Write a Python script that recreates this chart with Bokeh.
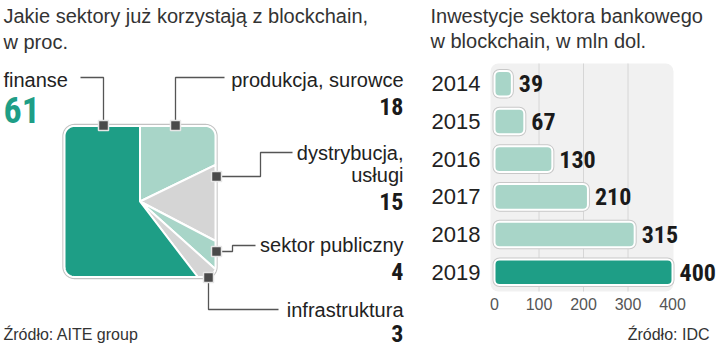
import math
from bokeh.plotting import figure
from bokeh.layouts import row
from bokeh.models import Range1d, FixedTicker, ColumnDataSource, FactorRange
from bokeh.core.properties import value
from bokeh.embed import file_html
from bokeh.resources import INLINE

# ---------------- data ----------------
sectors = ["finanse", "produkcja, surowce", "dystrybucja,\nusługi", "sektor publiczny", "infrastruktura"]
shares = [61, 18, 15, 4, 3]
pie_order = [1, 2, 3, 4, 0]          # clockwise from 12 o'clock

years = ["2014", "2015", "2016", "2017", "2018", "2019"]
invest = [39, 67, 130, 210, 315, 400]
x_ticks = [0, 100, 200, 300, 400]

title_left = ["Jakie sektory już korzystają z blockchain,", "w proc."]
title_right = ["Inwestycje sektora bankowego", "w blockchain, w mln dol."]
source_left = "Źródło: AITE group"
source_right = "Źródło: IDC"

# ---------------- styles ----------------
GREEN = "#1e9e86"
LIGHT = "#a8d5c8"
GRAY = "#d5d5d5"
sector_colors = [GREEN, LIGHT, GRAY, LIGHT, GRAY]
bar_colors = [LIGHT] * 5 + [GREEN]
TXT = "'Liberation Sans', Arial, sans-serif"
NUM = "'Liberation Sans Narrow', 'Noto Sans Condensed', 'Roboto Condensed', Roboto, sans-serif"
DARK = "#222222"
W, HGT = 720, 355
LW = 420


def yoff(size):
    # baseline correction for alphabetic text (px)
    return -round(0.38 * size)


# ---------------- left panel ----------------
L = figure(width=LW, height=HGT, x_range=Range1d(0, LW), y_range=Range1d(HGT, 0),
           x_axis_location=None, y_axis_location=None, toolbar_location=None,
           output_backend="svg", min_border=0, outline_line_color=None)
L.xgrid.visible = False
L.ygrid.visible = False

CX, CY, H, C = 139.5, 201.0, 75.5, 10.0


def edge(theta, h=H, c=C):
    dx_, dy_ = math.sin(theta), -math.cos(theta)
    t = h / max(abs(dx_), abs(dy_))
    px, py = t * dx_, t * dy_
    if abs(px) > h - c and abs(py) > h - c:
        cx0 = math.copysign(h - c, dx_)
        cy0 = math.copysign(h - c, dy_)
        b = dx_ * cx0 + dy_ * cy0
        t = b + math.sqrt(max(0.0, b * b - (cx0 * cx0 + cy0 * cy0) + c * c))
        px, py = t * dx_, t * dy_
    return CX + px, CY + py


total = sum(shares)
wx, wy, wc = [], [], []
a0 = 0.0
for i in pie_order:
    a1 = a0 + 2 * math.pi * shares[i] / total
    n = max(2, int((a1 - a0) / math.radians(0.5)))
    pts = [edge(a0 + (a1 - a0) * k / n) for k in range(n + 1)]
    wx.append([CX] + [p[0] for p in pts])
    wy.append([CY] + [p[1] for p in pts])
    wc.append(sector_colors[i])
    a0 = a1

opts = [edge(2 * math.pi * k / 720, H + 1.5, C + 1.5) for k in range(721)]
L.patch([p[0] for p in opts], [p[1] for p in opts], fill_color="white",
        line_color="#c2c2c2", line_width=1.3)
L.patches(wx, wy, fill_color=wc, line_color="white", line_width=2)

# connectors (finanse, produkcja, dystrybucja, publiczny, infrastruktura)
conn_x = [[80, 103, 103], [175, 175, 224], [216, 260, 260, 292], [216, 232, 232, 255], [208, 208, 278]]
conn_y = [[77, 77, 125], [125, 77, 77], [176, 176, 152, 152], [251, 251, 245, 245], [277, 309, 309]]
L.multi_line(conn_x, conn_y, line_color="#555555", line_width=1.3)
mk_x = [xs[-1] if i == 0 else xs[0] for i, xs in enumerate(conn_x)]
mk_y = [ys[-1] if i == 0 else ys[0] for i, ys in enumerate(conn_y)]
L.scatter(mk_x, mk_y, marker="square", size=10, fill_color="#4a4a4a",
          line_color="#e6e6e6", line_width=1.5)

L.text(x=[3, 3], y=[23, 49], text=title_left, text_font=value(TXT), text_font_size="20px",
       text_color="#333333", text_baseline="alphabetic", text_align="left", y_offset=yoff(20))
L.text(x=[3], y=[340], text=[source_left], text_font=value(TXT), text_font_size="16px",
       text_color="#333333", text_baseline="alphabetic", text_align="left", y_offset=yoff(16))

name_lines = [s.split("\n") for s in sectors]
name_base = [[87], [87], [160, 182], [252], [317]]
val_base = [123, 115, 210, 280, 342]
nx, ny, nt, na = [], [], [], []
for i, lines in enumerate(name_lines):
    for ln, yb in zip(lines, name_base[i]):
        nx.append(3 if i == 0 else 403)
        ny.append(yb)
        nt.append(ln)
        na.append("left" if i == 0 else "right")
L.text(x=nx, y=ny, text=nt, text_align=na, text_font=value(TXT), text_font_size="20px",
       text_color=DARK, text_baseline="alphabetic", y_offset=yoff(20))
L.text(x=[3], y=[val_base[0]], text=[str(shares[0])], text_align="left", text_font=value(NUM),
       text_font_size="36px", text_font_style="bold", text_color=GREEN, text_baseline="alphabetic",
       y_offset=yoff(36))
L.text(x=[403] * 4, y=val_base[1:], text=[str(v) for v in shares[1:]], text_align="right",
       text_font=value(NUM), text_font_size="24px", text_font_style="bold", text_color="#1a1a1a",
       text_baseline="alphabetic", y_offset=yoff(24))

# ---------------- right panel ----------------
X0 = 494          # pixel of value 0 (page coords)
PXU = 0.445       # pixels per unit
CAT_PX = 37.7     # pixels per year row
pad = (HGT / CAT_PX - len(years)) / 2


def dx(X):
    return (X - X0) / PXU


def dy(Y):
    return (HGT - Y) / CAT_PX - pad


R = figure(width=W - LW, height=HGT, x_range=Range1d(dx(LW), dx(W)),
           y_range=FactorRange(factors=years[::-1], range_padding=pad,
                               range_padding_units="absolute"),
           toolbar_location=None, output_backend="svg", min_border=0,
           outline_line_color=None)
R.xgrid.visible = False
R.ygrid.visible = False

R.quad(left=dx(490), right=dx(673), bottom=dy(291), top=dy(63), fill_color="#f1f1f1",
       line_color=None, border_radius=8)
grid_vals = x_ticks[1:-1]
R.segment(x0=grid_vals, y0=[dy(291)] * len(grid_vals), x1=grid_vals, y1=[dy(63)] * len(grid_vals),
          line_color="#d6d6d6", line_width=1)

src = ColumnDataSource(dict(year=years, v=invest, lab=[str(v) for v in invest], col=bar_colors))
R.hbar(y="year", left=0, right="v", height=0.68, source=src, fill_color=None,
       line_color="#c8c8c8", line_width=4, border_radius=5)
R.hbar(y="year", left=0, right="v", height=0.68, source=src, fill_color="col",
       line_color="white", line_width=2, border_radius=5)
R.text(x="v", y="year", text="lab", source=src, x_offset=7, text_baseline="middle",
       text_font=value(NUM), text_font_size="24px", text_font_style="bold", text_color="#1a1a1a")

R.yaxis.fixed_location = dx(490)
R.yaxis.major_label_text_font = TXT
R.yaxis.major_label_text_font_size = "22px"
R.yaxis.major_label_text_color = DARK
R.yaxis.axis_line_color = None
R.yaxis.major_tick_line_color = None
R.yaxis.minor_tick_line_color = None
R.yaxis.major_label_standoff = 4

R.xaxis.fixed_location = 0
R.xaxis.ticker = FixedTicker(ticks=x_ticks)
R.xaxis.major_label_text_font = TXT
R.xaxis.major_label_text_font_size = "16px"
R.xaxis.major_label_text_color = "#555555"
R.xaxis.axis_line_color = None
R.xaxis.major_tick_line_color = None
R.xaxis.minor_tick_line_color = None
R.xaxis.major_label_standoff = 1

R.text(x=[dx(430)] * 2, y=[dy(23), dy(49)], text=title_right, text_font=value(TXT),
       text_font_size="20px", text_color="#333333", text_baseline="alphabetic", text_align="left",
       y_offset=yoff(20))
R.text(x=[dx(709)], y=[dy(340)], text=[source_right], text_font=value(TXT),
       text_font_size="16px", text_color="#333333", text_baseline="alphabetic", text_align="right",
       y_offset=yoff(16))

layout = row(L, R)
open("out.html", "w").write(file_html(layout, INLINE))
